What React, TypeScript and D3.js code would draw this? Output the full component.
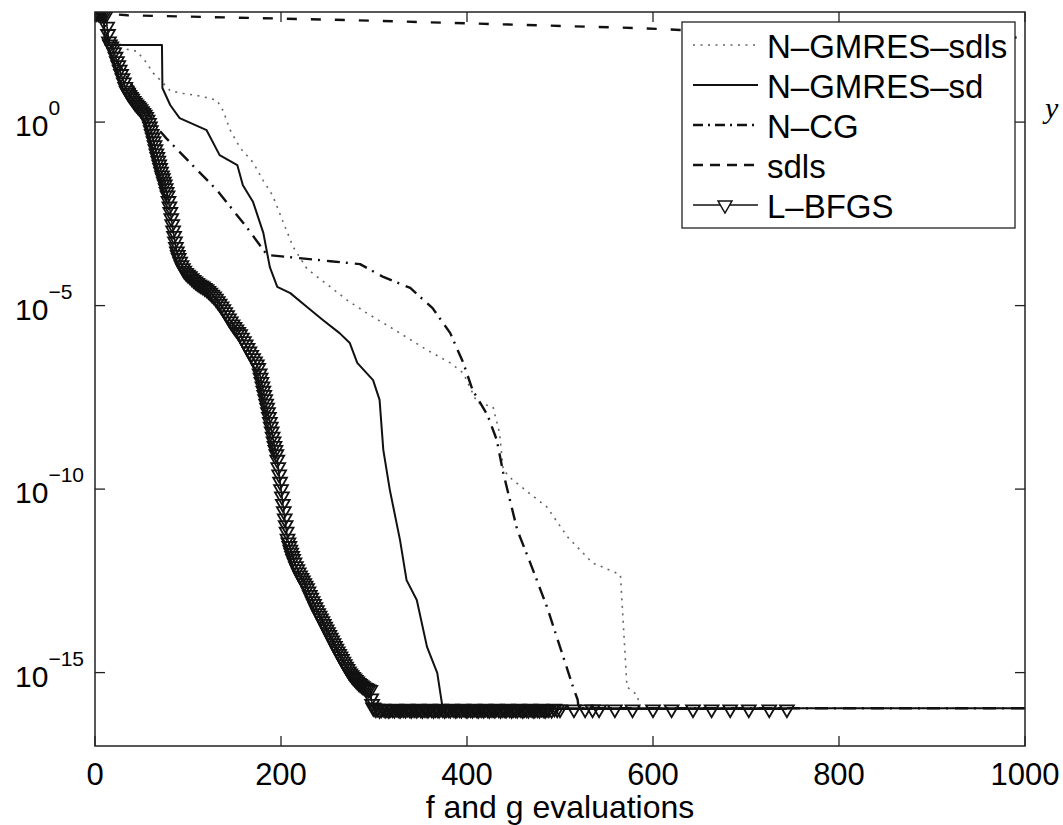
import * as d3 from 'd3'

// values are [f and g evaluations, log10 of the objective gap]
const lbfgs: [number, number][] = [
  [0, 2.97], [2, 2.97], [4, 2.96], [6, 2.96], [8, 2.95], [10, 2.94], [12, 2.93], [13, 2.6],
  [14, 2.4], [15, 2.2], [16, 2.12], [17.5, 2.06], [19, 2.0], [20.5, 1.9], [22, 1.78], [23.5, 1.66],
  [25, 1.55], [26.5, 1.43], [28, 1.31], [29.5, 1.2], [31, 1.08], [32.5, 0.96], [34, 0.86],
  [35.5, 0.8], [37, 0.74], [38.5, 0.69], [40, 0.64], [41.5, 0.58], [43, 0.53], [44.5, 0.48],
  [46, 0.44], [47.5, 0.4], [49, 0.35], [50.5, 0.3], [52, 0.25], [53.5, 0.2], [55, 0.14],
  [56.5, 0.07], [58, -0.02], [59, -0.12], [60, -0.22], [61, -0.32], [62, -0.42], [63, -0.52],
  [64, -0.63], [65, -0.74], [66, -0.85], [67, -0.95], [68, -1.05], [69, -1.15], [70, -1.25],
  [71, -1.35], [72, -1.45], [73, -1.53], [74, -1.62], [75, -1.7], [76, -1.8], [77, -1.9],
  [78, -2.0], [79, -2.15], [80, -2.3], [81, -2.45], [82, -2.62], [83, -2.78], [84, -2.95],
  [85, -3.1], [86, -3.25], [87, -3.4], [88, -3.52], [89, -3.62], [90, -3.7], [91.5, -3.8],
  [93, -3.9], [94.5, -3.98], [96, -4.05], [98, -4.11], [100, -4.16], [102, -4.2], [104, -4.25],
  [106, -4.3], [108, -4.34], [110, -4.38], [112, -4.42], [114, -4.45], [116, -4.48], [118, -4.52],
  [120, -4.55], [122, -4.6], [124, -4.65], [126, -4.7], [128, -4.75], [130, -4.81], [132, -4.88],
  [134, -4.95], [136, -5.02], [138, -5.1], [140, -5.18], [142, -5.26], [144, -5.35], [146, -5.43],
  [148, -5.51], [150, -5.58], [152, -5.65], [154, -5.72], [156, -5.78], [158, -5.87], [160, -5.97],
  [162, -6.06], [164, -6.15], [166, -6.25], [168, -6.34], [170, -6.43], [172, -6.52], [174, -6.6],
  [175.5, -6.7], [177, -6.85], [178, -6.96], [179, -7.08], [180, -7.2], [181, -7.32], [182, -7.43],
  [183, -7.55], [184, -7.67], [185, -7.78], [186, -7.9], [187, -8.03], [188, -8.17], [189, -8.3],
  [190, -8.43], [191, -8.57], [192, -8.7], [193, -8.82], [194, -8.93], [195, -9.05], [196, -9.2],
  [197, -9.4], [198, -9.6], [199, -9.8], [200, -10.0], [201, -10.2], [202, -10.4], [203, -10.6],
  [204, -10.8], [205, -10.98], [206, -11.16], [207, -11.35], [208, -11.45], [209, -11.55],
  [210, -11.65], [211, -11.73], [212, -11.82], [213, -11.9], [214.5, -12.0], [216, -12.1],
  [217.5, -12.18], [219, -12.27], [220.5, -12.35], [222, -12.42], [223.5, -12.49], [225, -12.56],
  [226.5, -12.63], [228, -12.7], [229.5, -12.79], [231, -12.88], [232.5, -12.96], [234, -13.05],
  [235.5, -13.13], [237, -13.22], [238.5, -13.3], [240, -13.38], [241.5, -13.45], [243, -13.52],
  [244.5, -13.6], [246, -13.67], [247.5, -13.75], [249, -13.82], [250.5, -13.9], [252, -13.97],
  [253.5, -14.05], [255, -14.12], [256.5, -14.2], [258, -14.27], [259.5, -14.35], [261, -14.42],
  [262.5, -14.49], [264, -14.56], [265.5, -14.63], [267, -14.7], [268.5, -14.77], [270, -14.84],
  [271.5, -14.9], [273, -14.97], [274.5, -15.02], [276, -15.07], [277.5, -15.12], [279, -15.16],
  [280.5, -15.2], [282, -15.24], [283.5, -15.28], [285, -15.31], [286.5, -15.34], [288, -15.37],
  [289.5, -15.4], [291, -15.42], [292.5, -15.44], [294, -15.46], [296, -15.47], [297, -15.7],
  [298, -15.85], [299, -15.95],
  [300, -15.97], [302, -16.0], [304, -15.98], [306, -16.02], [308, -16.0], [310, -15.98],
  [312, -16.01], [314, -16.0], [316, -16.02], [318, -15.99], [320, -16.0], [322, -16.01],
  [324, -15.98], [326, -16.0], [328, -16.02], [330, -15.99], [332, -16.0], [334, -16.01],
  [336, -15.98], [338, -16.0], [340, -16.02], [342, -15.99], [344, -16.0], [346, -16.01],
  [348, -15.98], [350, -16.0], [352, -16.02], [354, -15.99], [356, -16.0], [358, -16.01],
  [360, -15.98], [362, -16.0], [364, -16.02], [366, -15.99], [368, -16.0], [370, -16.01],
  [372, -15.98], [374, -16.0], [376, -16.02], [378, -15.99], [380, -16.0], [382, -16.01],
  [384, -15.98], [386, -16.0], [388, -16.02], [390, -15.99], [392, -16.0], [394, -16.01],
  [396, -15.98], [398, -16.0], [400, -16.02], [402, -15.99], [404, -16.0], [406, -16.01],
  [408, -15.98], [410, -16.0], [412, -16.02], [414, -15.99], [416, -16.0], [418, -16.01],
  [420, -15.98], [422, -16.0], [424, -16.02], [426, -15.99], [428, -16.0], [430, -16.01],
  [432, -15.98], [434, -16.0], [436, -16.02], [438, -15.99], [440, -16.0], [442, -16.01],
  [444, -15.98], [446, -16.0], [448, -16.02], [450, -15.99], [452, -16.0], [454, -16.01],
  [456, -15.98], [458, -16.0], [460, -16.02], [462, -15.99], [464, -16.0], [466, -16.01],
  [468, -15.98], [470, -16.0], [472, -16.02], [474, -15.99], [476, -16.0], [478, -16.01],
  [480, -15.98], [482, -16.0], [484, -16.02], [486, -15.99], [488, -16.0], [491, -16.01],
  [494, -15.98], [497, -16.0], [500, -16.0],
  [515, -16.0], [527, -16.0], [535, -16.0], [542, -16.0], [559, -16.0], [578, -16.0],
  [600, -16.0], [620, -16.0], [643, -16.0], [663, -16.0], [683, -16.0], [703, -16.0],
  [725, -16.0], [744, -16.0],
]

const ngmresSd: [number, number][] = [
  [0, 2.97], [9, 2.95], [11, 2.1], [72, 2.1], [72.5, 0.93], [81, 0.46], [91, 0.11], [120, -0.22],
  [134, -0.9], [153, -1.17], [159, -1.72], [170, -2.18], [181, -3.02], [188, -3.95], [196, -4.49],
  [210, -4.66], [228, -5.04], [245, -5.39], [263, -5.75], [274, -6.02], [282, -6.56], [299, -7.03],
  [306, -7.57], [310, -8.93], [317, -10.02], [328, -11.39], [335, -12.48], [346, -13.02],
  [357, -14.3], [368, -15.01], [373, -15.83], [374, -15.97], [1000, -15.97],
]

const ngmresSdls: [number, number][] = [
  [0, 2.97], [10, 2.9], [12, 2.1], [45, 1.93], [56, 1.6], [62, 1.35], [70, 1.15], [81, 0.85],
  [95, 0.78], [113, 0.71], [131, 0.6], [138, 0.3], [145, -0.2], [156, -0.7], [170, -1.1],
  [181, -1.6], [191, -2.0], [202, -2.7], [213, -3.4], [228, -4.0], [253, -4.49], [271, -4.85],
  [292, -5.2], [317, -5.58], [357, -6.21], [382, -6.56], [396, -6.84], [411, -7.65], [428, -7.76],
  [435, -8.47], [439, -9.48], [449, -9.75], [486, -10.49], [508, -11.3], [535, -12.01],
  [561, -12.29], [565, -12.34], [572, -15.39], [583, -15.61], [586, -15.97], [1000, -15.97],
]

const ncg: [number, number][] = [
  [0, 2.97], [10, 2.9], [13, 2.2], [25, 1.6], [40, 1.0], [55, 0.35], [65, -0.1], [77, -0.45],
  [84, -0.63], [110, -1.31], [131, -1.85], [163, -2.86], [185, -3.62], [217, -3.7], [253, -3.79],
  [285, -3.87], [310, -4.22], [339, -4.52], [363, -5.07], [382, -5.75], [396, -6.56], [406, -7.3],
  [422, -7.98], [432, -8.66], [439, -9.56], [454, -11.11], [468, -12.01], [486, -13.21],
  [500, -14.3], [514, -15.39], [519, -15.74], [520, -15.97], [1000, -15.97],
]

const sdls: [number, number][] = [
  [0, 2.98], [35, 2.91], [274, 2.78], [586, 2.56], [629, 2.51], [1000, 2.3],
]

const xTicks = [0, 200, 400, 600, 800, 1000]
const yTickExps = [0, -5, -10, -15]
const legendNames = ['N\u2013GMRES\u2013sdls', 'N\u2013GMRES\u2013sd', 'N\u2013CG', 'sdls', 'L\u2013BFGS']

const W = 1063
const H = 825
const plot = { left: 95, right: 1025, top: 12, bottom: 746 }
const FONT = '"Liberation Sans", Arial, Helvetica, sans-serif'

const styles = [
  { stroke: '#666', width: 1.6, dash: '2 5.5' },
  { stroke: '#111', width: 2, dash: '' },
  { stroke: '#111', width: 2.4, dash: '13 6 2 7' },
  { stroke: '#111', width: 2.4, dash: '10 14' },
  { stroke: '#111', width: 1.6, dash: '' },
]

function tri(cx: number, cy: number, r = 8) {
  return `M${cx - 0.866 * r},${cy - 0.5 * r}L${cx + 0.866 * r},${cy - 0.5 * r}L${cx},${cy + r}Z`
}

export default function App() {
  const x = d3.scaleLinear().domain([0, 1000]).range([plot.left, plot.right])
  const y = d3.scaleLog().domain([1e-17, 1e3]).range([plot.bottom, plot.top])

  const line = d3.line<[number, number]>()
    .x(d => x(d[0]))
    .y(d => y(Math.pow(10, d[1])))

  const series = [ngmresSdls, ngmresSd, ncg, sdls, lbfgs]

  // legend layout
  const lg = { x0: 682, x1: 1015, y0: 22, y1: 228 }
  const rowY = [45, 85, 125, 165, 205]

  return (
    <svg width={W} height={H} style={{ position: 'absolute', left: 0, top: 0, background: '#fff' }}>
      <defs>
        <clipPath id="plotclip">
          <rect x={plot.left} y={plot.top} width={plot.right - plot.left} height={plot.bottom - plot.top} />
        </clipPath>
      </defs>
      <rect width={W} height={H} fill="#fff" />

      <g clipPath="url(#plotclip)">
        {series.map((s, i) => (
          <path
            key={i}
            d={line(s) ?? ''}
            fill="none"
            stroke={styles[i].stroke}
            strokeWidth={styles[i].width}
            strokeDasharray={styles[i].dash || undefined}
            strokeLinejoin="round"
          />
        ))}
        {lbfgs.map((d, i) => (
          <path key={'m' + i} d={tri(x(d[0]), y(Math.pow(10, d[1])))} fill="none" stroke="#111" strokeWidth={1.8} />
        ))}
      </g>

      {/* axes box */}
      <rect x={plot.left} y={plot.top} width={plot.right - plot.left} height={plot.bottom - plot.top}
        fill="none" stroke="#222" strokeWidth={1.5} />

      {xTicks.map(t => (
        <g key={'x' + t}>
          <line x1={x(t)} x2={x(t)} y1={plot.bottom} y2={plot.bottom - 10} stroke="#222" strokeWidth={1.3} />
          <line x1={x(t)} x2={x(t)} y1={plot.top} y2={plot.top + 10} stroke="#222" strokeWidth={1.3} />
          <text x={x(t)} y={785} textAnchor="middle" fontFamily={FONT} fontSize={31} fill="#000">{t}</text>
        </g>
      ))}

      {yTickExps.map(e => {
        const ty = y(Math.pow(10, e))
        return (
          <g key={'y' + e}>
            <line x1={plot.left} x2={plot.left + 10} y1={ty} y2={ty} stroke="#222" strokeWidth={1.3} />
            <line x1={plot.right} x2={plot.right - 10} y1={ty} y2={ty} stroke="#222" strokeWidth={1.3} />
            <text x={15} y={ty + 14} fontFamily={FONT} fontSize={30} fill="#000">
              10<tspan dy={-21} fontSize={21}>{e < 0 ? '\u2212' + Math.abs(e) : String(e)}</tspan>
            </text>
          </g>
        )
      })}

      <text x={(plot.left + plot.right) / 2} y={818} textAnchor="middle" fontFamily={FONT} fontSize={32} fill="#000">
        f and g evaluations
      </text>

      {/* legend */}
      <rect x={lg.x0} y={lg.y0} width={lg.x1 - lg.x0} height={lg.y1 - lg.y0} fill="#fff" stroke="#222" strokeWidth={1.3} />
      {legendNames.map((name, i) => (
        <g key={name}>
          <line x1={693} x2={758} y1={rowY[i]} y2={rowY[i]}
            stroke={styles[i].stroke} strokeWidth={styles[i].width}
            strokeDasharray={i === 3 ? '10 7' : i === 2 ? '10 5 2 5' : styles[i].dash || undefined} />
          {i === 4 && <path d={tri(725, rowY[i])} fill="#fff" stroke="#111" strokeWidth={1.5} />}
          <text x={767} y={rowY[i] + 13} fontFamily={FONT} fontSize={33} fill="#000">{name}</text>
        </g>
      ))}

      <text x={1045} y={118} fontFamily='"Liberation Serif", "DejaVu Serif", serif' fontStyle="italic" fontSize={30} fill="#000">y</text>
    </svg>
  )
}
